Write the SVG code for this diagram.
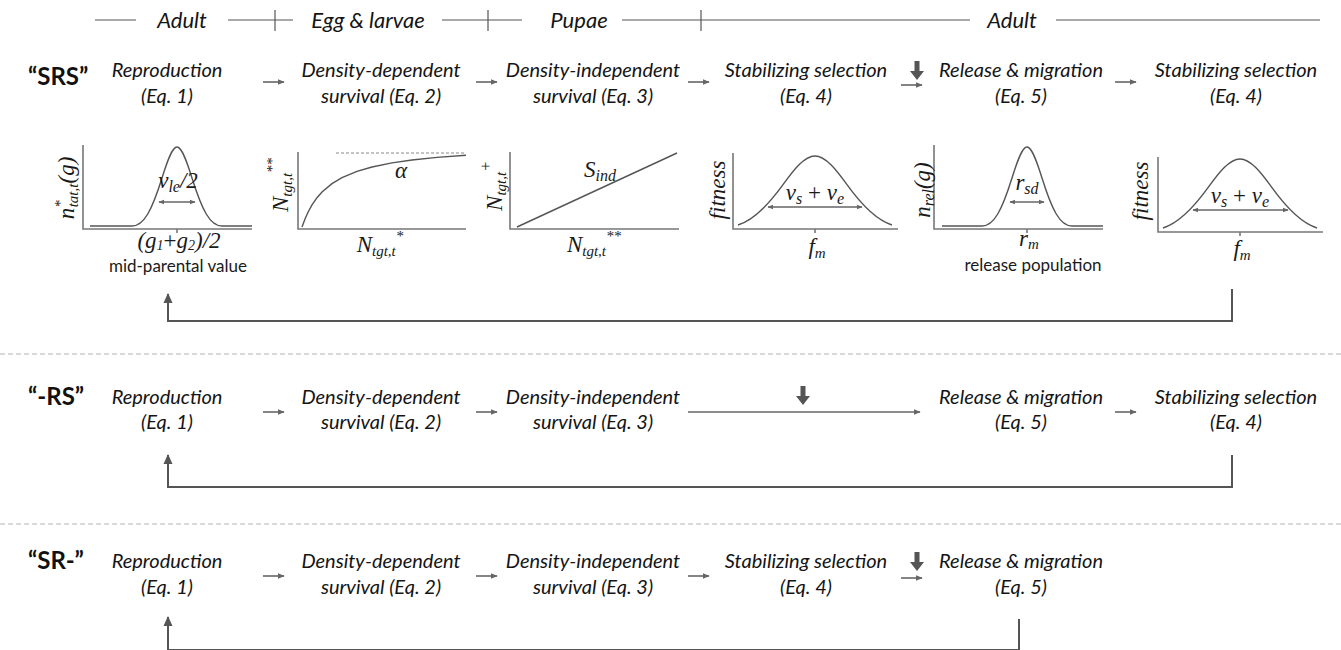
<svg xmlns="http://www.w3.org/2000/svg" width="1341" height="650" viewBox="0 0 1341 650">
<defs>
<style>
.lbl{font-family:Lato,"Liberation Sans",sans-serif;font-style:italic;font-size:20px;fill:#141414;text-anchor:middle}
.hdr{font-family:Lato,"Liberation Sans",sans-serif;font-style:italic;font-size:22px;fill:#141414;text-anchor:middle}
.tag{font-family:Lato,"Liberation Sans",sans-serif;font-weight:bold;font-size:24px;fill:#111}
.m{font-family:"Liberation Serif","DejaVu Serif",serif;font-style:italic;font-size:23px;fill:#1a1a1a;text-anchor:middle}
.pl{font-family:Lato,"Liberation Sans",sans-serif;font-size:17px;fill:#1a1a1a;text-anchor:middle}
.ax{stroke:#777;stroke-width:1.6;fill:none}
.cv{stroke:#555;stroke-width:1.4;fill:none}
.dbl{stroke:#666;stroke-width:1.3;fill:none;marker-start:url(#dh);marker-end:url(#dh)}
.sa{stroke:#666;stroke-width:1.6;fill:none;marker-end:url(#sh)}
.fb{stroke:#555;stroke-width:2;fill:none}
.hl{stroke:#555;stroke-width:1.2;fill:none}
.sep{stroke:#b3b3b3;stroke-width:1;stroke-dasharray:5 3}
.big{fill:#555}
</style>
<marker id="sh" viewBox="0 0 10 10" refX="9" refY="5" markerWidth="7" markerHeight="7" orient="auto" markerUnits="userSpaceOnUse"><path d="M0,1 L10,5 L0,9 Z" fill="#666"/></marker>
<marker id="dh" viewBox="0 0 10 10" refX="9" refY="5" markerWidth="6" markerHeight="6" orient="auto-start-reverse" markerUnits="userSpaceOnUse"><path d="M0,1 L10,5 L0,9 Z" fill="#666"/></marker>
<marker id="fh" viewBox="0 0 10 10" refX="9" refY="5" markerWidth="10" markerHeight="10" orient="auto" markerUnits="userSpaceOnUse"><path d="M0,0.5 L10,5 L0,9.5 Z" fill="#555"/></marker>
</defs>

<g id="header">
<line class="hl" x1="95" y1="20" x2="136" y2="20"/>
<text class="hdr" x="182" y="28">Adult</text>
<line class="hl" x1="228" y1="20" x2="293" y2="20"/>
<line class="hl" x1="275" y1="10" x2="275" y2="31"/>
<text class="hdr" x="368" y="28">Egg &amp; larvae</text>
<line class="hl" x1="442" y1="20" x2="522" y2="20"/>
<line class="hl" x1="488" y1="10" x2="488" y2="31"/>
<text class="hdr" x="579" y="28">Pupae</text>
<line class="hl" x1="622" y1="20" x2="970" y2="20"/>
<line class="hl" x1="701" y1="10" x2="701" y2="31"/>
<text class="hdr" x="1012" y="28">Adult</text>
<line class="hl" x1="1056" y1="20" x2="1320" y2="20"/>
</g>

<!-- Row SRS -->
<g id="tag-srs"><text class="tag" x="28" y="85">“SRS”</text></g>
<g id="srs-repro"><text class="lbl" x="167" y="77">Reproduction</text><text class="lbl" x="167" y="103">(Eq. 1)</text></g>
<g id="srs-dd"><text class="lbl" x="381" y="77">Density-dependent</text><text class="lbl" x="381" y="103">survival (Eq. 2)</text></g>
<g id="srs-di"><text class="lbl" x="593" y="77">Density-independent</text><text class="lbl" x="593" y="103">survival (Eq. 3)</text></g>
<g id="srs-stab1"><text class="lbl" x="806" y="77">Stabilizing selection</text><text class="lbl" x="806" y="103">(Eq. 4)</text></g>
<g id="srs-rel"><text class="lbl" x="1021" y="77">Release &amp; migration</text><text class="lbl" x="1021" y="103">(Eq. 5)</text></g>
<g id="srs-stab2"><text class="lbl" x="1236" y="77">Stabilizing selection</text><text class="lbl" x="1236" y="103">(Eq. 4)</text></g>

<!-- Row -RS -->
<g id="tag-rs"><text class="tag" x="28" y="405">“-RS”</text></g>
<g id="rs-repro"><text class="lbl" x="167" y="404">Reproduction</text><text class="lbl" x="167" y="429">(Eq. 1)</text></g>
<g id="rs-dd"><text class="lbl" x="381" y="404">Density-dependent</text><text class="lbl" x="381" y="429">survival (Eq. 2)</text></g>
<g id="rs-di"><text class="lbl" x="593" y="404">Density-independent</text><text class="lbl" x="593" y="429">survival (Eq. 3)</text></g>
<g id="rs-rel"><text class="lbl" x="1021" y="404">Release &amp; migration</text><text class="lbl" x="1021" y="429">(Eq. 5)</text></g>
<g id="rs-stab"><text class="lbl" x="1236" y="404">Stabilizing selection</text><text class="lbl" x="1236" y="429">(Eq. 4)</text></g>

<!-- Row SR- -->
<g id="tag-sr"><text class="tag" x="28" y="569">“SR-”</text></g>
<g id="sr-repro"><text class="lbl" x="167" y="568">Reproduction</text><text class="lbl" x="167" y="594">(Eq. 1)</text></g>
<g id="sr-dd"><text class="lbl" x="381" y="568">Density-dependent</text><text class="lbl" x="381" y="594">survival (Eq. 2)</text></g>
<g id="sr-di"><text class="lbl" x="593" y="568">Density-independent</text><text class="lbl" x="593" y="594">survival (Eq. 3)</text></g>
<g id="sr-stab"><text class="lbl" x="806" y="568">Stabilizing selection</text><text class="lbl" x="806" y="594">(Eq. 4)</text></g>
<g id="sr-rel"><text class="lbl" x="1021" y="568">Release &amp; migration</text><text class="lbl" x="1021" y="594">(Eq. 5)</text></g>

<!-- Plots -->
<g id="plot-repro">
<polyline class="ax" points="83,145 83,229 252,229"/>
<line class="ax" x1="177" y1="229" x2="177" y2="233"/>
<path class="cv" d="M90,226 L132,226 C144,226 152,210 162,178 C167,162 172,147 177,147 C182,147 187,162 192,178 C202,210 210,226 222,226 L252,226"/>
<line class="dbl" x1="159" y1="202" x2="195" y2="202"/>
<text class="m" x="178" y="188">v<tspan font-size="16" dy="4">le</tspan><tspan dy="-4">/2</tspan></text>
<text class="m" x="179" y="248" font-size="21">(g<tspan font-size="14" dy="2">1</tspan><tspan font-style="normal" dy="-2">+</tspan>g<tspan font-size="14" dy="2">2</tspan><tspan dy="-2">)/2</tspan></text>
<text class="pl" x="178" y="272">mid-parental value</text>
<text class="m" transform="translate(74,188) rotate(-90)">n<tspan font-size="15" dy="-9">*</tspan><tspan font-size="15" dx="-7" dy="13">tat,t</tspan><tspan dy="-4">(g)</tspan></text>
</g>

<g id="plot-dd">
<polyline class="ax" points="298,152 298,229 466,229"/>
<line x1="336" y1="153" x2="466" y2="153" stroke="#888" stroke-width="1" stroke-dasharray="3 2"/>
<polyline class="cv" points="302,227 305,218.9 308,212.2 312,204.9 317,197.7 322,192 332,183.6 342,177.6 357,171.3 372,167 392,162.9 412,160 437,157.4 466,155.3"/>
<text class="m" x="401" y="178">α</text>
<text class="m" x="380" y="252">N<tspan font-size="15" dy="4">tgt,t</tspan><tspan font-size="15" dy="-15">*</tspan></text>
<text class="m" transform="translate(288,185) rotate(-90)">N<tspan font-size="15" dy="4">tgt,t</tspan><tspan font-size="15" dy="-15">**</tspan></text>
</g>

<g id="plot-di">
<polyline class="ax" points="510,152 510,229 679,229"/>
<line class="cv" x1="517" y1="227" x2="677" y2="153"/>
<text class="m" x="600" y="177">S<tspan font-size="16" dy="4">ind</tspan></text>
<text class="m" x="594" y="252">N<tspan font-size="15" dy="4">tgt,t</tspan><tspan font-size="15" dy="-15">**</tspan></text>
<text class="m" transform="translate(502,186) rotate(-90)">N<tspan font-size="15" dy="4">tgt,t</tspan><tspan font-size="16" dy="-15">+</tspan></text>
</g>

<g id="plot-stab1">
<polyline class="ax" points="733,153 733,229 898,229"/>
<line class="ax" x1="815" y1="229" x2="815" y2="233"/>
<path class="cv" d="M738,225 C753,220.4 768,205.5 783,184.7 C793.7,169.9 804.3,156 815,156 C825.7,156 836.3,169.9 847,184.7 C862,205.5 877,220.4 892,225"/>
<line class="dbl" x1="768" y1="207" x2="862" y2="207"/>
<text class="m" x="815" y="200">v<tspan font-size="16" dy="4">s</tspan><tspan font-style="normal" dy="-4"> + </tspan>v<tspan font-size="16" dy="4">e</tspan></text>
<text class="m" x="817" y="254" font-size="22">f<tspan font-size="15" dy="4">m</tspan></text>
<text class="m" transform="translate(725,190) rotate(-90)">fitness</text>
</g>

<g id="plot-rel">
<polyline class="ax" points="934,145 934,229 1103,229"/>
<line class="ax" x1="1027" y1="229" x2="1027" y2="233"/>
<path class="cv" d="M942,226 L982,226 C994,226 1002,210 1012,178 C1017,162 1022,147 1027,147 C1032,147 1037,162 1042,178 C1052,210 1060,226 1072,226 L1103,226"/>
<line class="dbl" x1="1010" y1="202" x2="1044" y2="202"/>
<text class="m" x="1027" y="190">r<tspan font-size="16" dy="4">sd</tspan></text>
<text class="m" x="1029" y="246" font-size="22">r<tspan font-size="15" dy="3">m</tspan></text>
<text class="pl" x="1033" y="271">release population</text>
<text class="m" transform="translate(930,190) rotate(-90)">n<tspan font-size="16" dy="4">rel</tspan><tspan dy="-4">(g)</tspan></text>
</g>

<g id="plot-stab2">
<polyline class="ax" points="1158,157 1158,232 1323,232"/>
<line class="ax" x1="1240" y1="232" x2="1240" y2="236"/>
<path class="cv" d="M1163,228 C1178,223.4 1193,208.5 1208,187.7 C1218.7,172.9 1229.3,159 1240,159 C1250.7,159 1261.3,172.9 1272,187.7 C1287,208.5 1302,223.4 1317,228"/>
<line class="dbl" x1="1193" y1="210" x2="1288" y2="210"/>
<text class="m" x="1240" y="203">v<tspan font-size="16" dy="4">s</tspan><tspan font-style="normal" dy="-4"> + </tspan>v<tspan font-size="16" dy="4">e</tspan></text>
<text class="m" x="1242" y="256" font-size="22">f<tspan font-size="15" dy="4">m</tspan></text>
<text class="m" transform="translate(1148,191) rotate(-90)">fitness</text>
</g>

<g id="separators">
<line class="sep" x1="0" y1="354" x2="1341" y2="354"/>
<line class="sep" x1="0" y1="524" x2="1341" y2="524"/>
</g>

<g id="connectors">
<!-- SRS -->
<line class="sa" x1="263" y1="82" x2="284" y2="82"/>
<line class="sa" x1="476" y1="82" x2="497" y2="82"/>
<line class="sa" x1="688" y1="82" x2="709" y2="82"/>
<line class="sa" x1="901" y1="85" x2="922" y2="85"/>
<line class="sa" x1="1115" y1="82" x2="1136" y2="82"/>
<polygon class="big" points="914.5,61 919.5,61 919.5,71 924,71 917,80 910,71 914.5,71"/>
<polyline class="fb" points="1232,289 1232,321 168,321 168,294" marker-end="url(#fh)"/>
<!-- -RS -->
<line class="sa" x1="263" y1="412" x2="284" y2="412"/>
<line class="sa" x1="476" y1="412" x2="497" y2="412"/>
<line class="sa" x1="688" y1="412" x2="920" y2="412"/>
<line class="sa" x1="1115" y1="412" x2="1136" y2="412"/>
<polygon class="big" points="800.5,386 805.5,386 805.5,396 810,396 803,405 796,396 800.5,396"/>
<polyline class="fb" points="1232,455 1232,487 168,487 168,455" marker-end="url(#fh)"/>
<!-- SR- -->
<line class="sa" x1="263" y1="576" x2="284" y2="576"/>
<line class="sa" x1="476" y1="576" x2="497" y2="576"/>
<line class="sa" x1="688" y1="576" x2="709" y2="576"/>
<line class="sa" x1="901" y1="578" x2="922" y2="578"/>
<polygon class="big" points="914.5,552 919.5,552 919.5,562 924,562 917,571 910,562 914.5,562"/>
<polyline class="fb" points="1019,619 1019,650 168,650 168,617" marker-end="url(#fh)"/>
</g>
</svg>
